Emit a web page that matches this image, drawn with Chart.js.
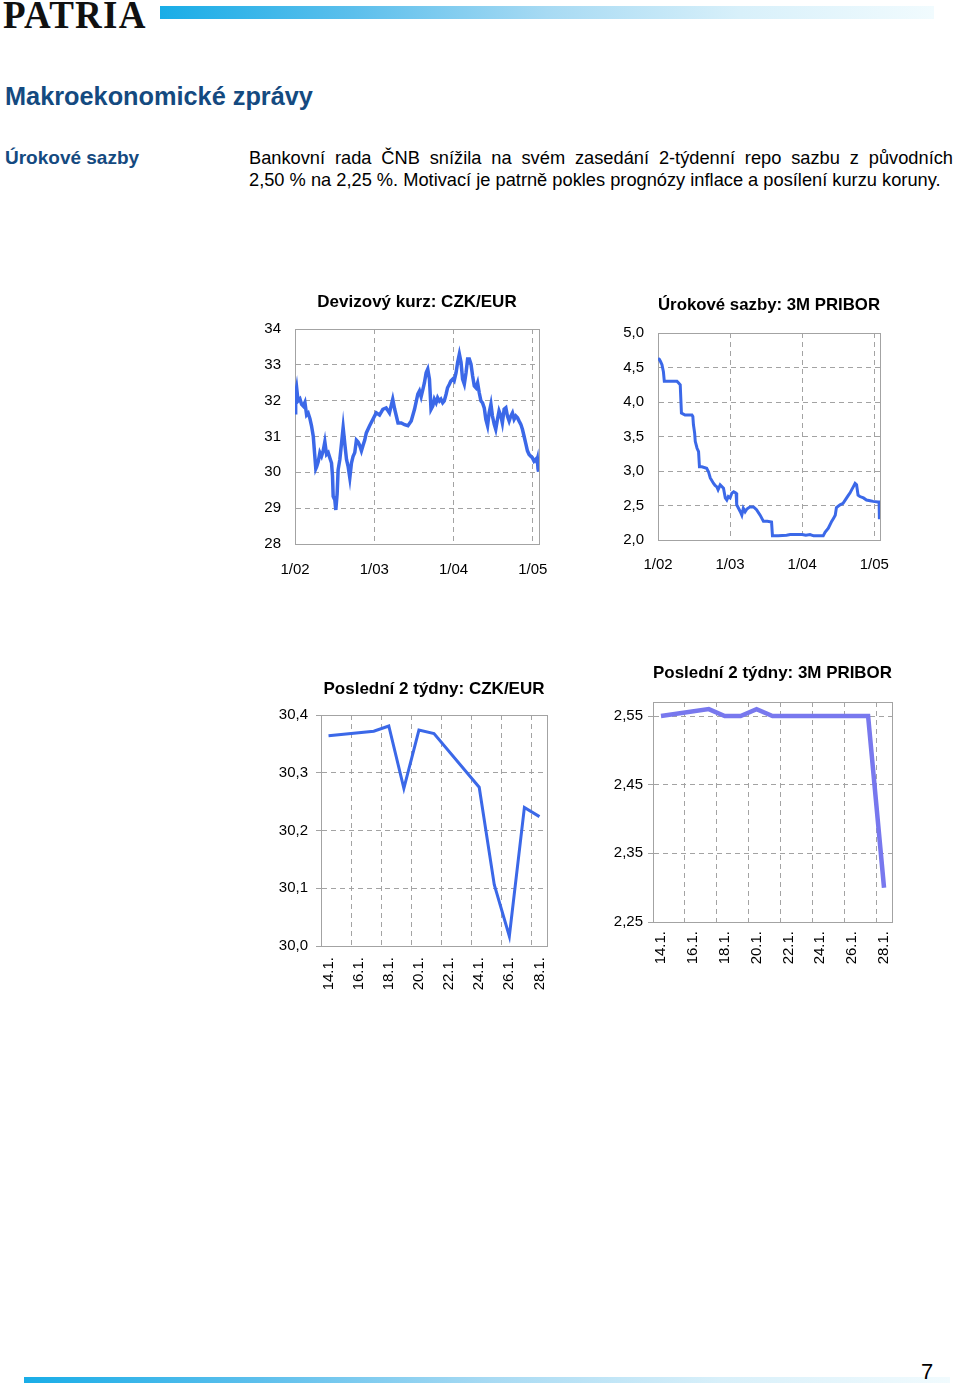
<!DOCTYPE html>
<html lang="cs">
<head>
<meta charset="utf-8">
<title>Makroekonomické zprávy</title>
<script src="https://cdn.jsdelivr.net/npm/chart.js@4.4.1/dist/chart.umd.min.js"></script>
<style>
  body { margin: 0; background: #fff; font-family: 'Liberation Sans', Arial, sans-serif; }
  #strana { position: relative; width: 960px; height: 1388px; overflow: hidden; }
  .abs { position: absolute; margin: 0; }
  .logo { left: 3px; top: -3px; font-family: 'Liberation Serif', 'DejaVu Serif', serif; font-size: 37px; line-height: 37px; font-weight: bold; letter-spacing: 1.2px; color: #111; transform: scaleY(1.08); transform-origin: left bottom; }
  .pruh { background: linear-gradient(to right, #19ade7 0%, #5cbfec 25%, #a7daf3 50%, #d8f0fa 75%, #f1fbfe 100%); }
  .nadpis { left: 5px; top: 81px; font-size: 25.3px; line-height: 30px; font-weight: bold; color: #144a80; }
  .podnadpis { left: 5px; top: 147px; font-size: 19px; line-height: 22px; font-weight: bold; color: #144a80; }
  .text { left: 249px; width: 704px; font-size: 18.25px; line-height: 22px; color: #000; white-space: nowrap; }
  .radek1 { top: 147px; text-align: justify; text-align-last: justify; }
  .radek2 { top: 169px; }
  .cislo { left: 921px; top: 1360px; font-family: 'Liberation Sans Narrow', 'Liberation Sans', sans-serif; font-size: 22px; line-height: 24px; color: #000; }
  canvas { position: absolute; }
</style>
</head>
<body>
<div id="strana">
  <div class="abs logo">PATRIA</div>
  <div class="abs pruh" style="left:160px; top:6px; width:774px; height:13px;"></div>

  <div class="abs nadpis">Makroekonomické zprávy</div>
  <div class="abs podnadpis">Úrokové sazby</div>
  <div class="abs text radek1">Bankovní rada ČNB snížila na svém zasedání 2-týdenní repo sazbu z původních</div>
  <div class="abs text radek2">2,50 % na 2,25 %. Motivací je patrně pokles prognózy inflace a posílení kurzu koruny.</div>

  <canvas id="g1" width="330" height="310" style="left:230px; top:280px;"></canvas>
  <canvas id="g2" width="300" height="300" style="left:600px; top:285px;"></canvas>
  <canvas id="g3" width="300" height="345" style="left:260px; top:660px;"></canvas>
  <canvas id="g4" width="310" height="330" style="left:595px; top:650px;"></canvas>

  <div class="abs pruh" style="left:24px; top:1377px; width:926px; height:6px;"></div>
  <div class="abs cislo">7</div>
</div>

<script>
// Devizový kurz CZK/EUR - x = měsíce od 1/2002
const czkMesice = [0, 0.1, 0.25, 0.4, 0.5, 0.75, 1.0, 1.26, 1.5, 1.76, 2.0, 2.26, 2.5, 2.77, 3.0, 3.15, 3.27, 3.52, 3.77, 4.02,
  4.27, 4.52, 4.78, 5.03, 5.28, 5.53, 5.68, 5.78, 6.03, 6.18, 6.38, 6.53, 6.79, 7.04, 7.29, 7.54, 7.8, 8.04, 8.3, 8.55,
  8.8, 9.05, 9.3, 9.55, 9.8, 10.06, 10.3, 10.56, 10.8, 11.3, 11.8, 12.3, 12.8, 13.3, 13.8, 14.3, 14.8, 15.1, 15.6, 16.1,
  16.6, 17.1, 17.6, 18.1, 18.6, 18.85, 19.1, 19.35, 19.6, 19.86, 20.1, 20.36, 20.6, 20.86, 21.1, 21.37, 21.6, 21.87, 22.1, 22.37,
  22.6, 22.88, 23.1, 23.38, 23.6, 23.88, 24.1, 24.39, 24.63, 24.89, 25.14, 25.38, 25.64, 25.9, 26.14, 26.4, 26.65, 26.9, 27.15, 27.4,
  27.65, 27.9, 28.16, 28.4, 28.66, 28.9, 29.16, 29.4, 29.67, 29.9, 30.17, 30.4, 30.66, 30.9, 31.18, 31.4, 31.67, 31.93, 32.17, 32.43,
  32.68, 32.93, 33.18, 33.44, 33.7, 33.94, 34.2, 34.44, 34.7, 34.95, 35.2, 35.45, 35.7, 35.94, 36.2, 36.45, 36.6, 36.7, 36.8, 36.84,
  36.88, 36.92];
const czkKurz = [31.66, 32.2, 32.36, 32.1, 32.0, 32.05, 31.9, 31.85, 31.95, 31.6, 31.65, 31.5, 31.3, 31.0, 30.45, 30.1, 30.15, 30.3, 30.55, 30.45,
  30.6, 30.85, 30.5, 30.55, 30.4, 30.26, 29.9, 29.33, 29.23, 28.95, 29.4, 30.07, 30.36, 30.8, 31.25, 30.8, 30.36, 30.17, 29.85, 30.26,
  30.45, 30.55, 30.9, 30.85, 30.75, 30.6, 30.75, 30.9, 31.1, 31.3, 31.48, 31.66, 31.6, 31.76, 31.8, 31.66, 32.04, 31.76, 31.38, 31.38,
  31.33, 31.3, 31.43, 31.76, 32.18, 32.27, 32.11, 32.3, 32.5, 32.78, 32.88, 32.6, 31.76, 31.85, 32.04, 31.94, 32.08, 31.99, 32.04, 31.94,
  31.99, 32.18, 32.36, 32.46, 32.55, 32.6, 32.55, 32.78, 33.07, 33.3, 33.07, 32.6, 32.46, 32.78, 33.16, 33.16, 33.02, 32.69, 32.41, 32.36,
  32.5, 32.22, 31.99, 31.94, 31.8, 31.48, 31.3, 31.66, 31.9, 31.57, 31.34, 31.2, 31.48, 31.71, 31.57, 31.38, 31.76, 31.8, 31.57, 31.43,
  31.57, 31.66, 31.48, 31.57, 31.52, 31.43, 31.34, 31.2, 31.0, 30.8, 30.6, 30.5, 30.45, 30.41, 30.31, 30.36, 30.3, 30.37, 30.1, 30.02,
  30.24, 30.22];

// 3M PRIBOR (%) - x = měsíce od 1/2002
const priborMesice = [0, 0.2, 0.4, 0.66, 0.9, 1.05, 2.0, 3.16, 3.4, 3.7, 3.9, 4.5, 5.65, 5.8, 5.9, 6.1, 6.2, 6.5, 6.75, 6.9,
  7.3, 8.1, 8.4, 8.7, 9.25, 9.5, 9.8, 10.0, 10.35, 10.9, 11.2, 11.45, 11.7, 12.0, 12.3, 12.6, 13.0, 13.1, 13.4, 13.7,
  13.95, 14.2, 14.5, 14.8, 15.3, 15.9, 16.4, 17.0, 17.55, 18.2, 18.9, 19.05, 20.0, 21.4, 22.0, 23.0, 24.0, 24.6, 25.3, 25.9,
  27.5, 27.8, 28.35, 28.9, 29.2, 29.5, 29.7, 30.3, 30.8, 31.4, 31.7, 31.95, 32.25, 32.5, 32.8, 33.05, 33.3, 33.6, 34.2, 34.7,
  35.3, 35.8, 36.6, 36.8, 36.85];
const priborSazba = [4.63, 4.62, 4.59, 4.54, 4.44, 4.30, 4.30, 4.30, 4.28, 4.25, 3.84, 3.81, 3.81, 3.79, 3.67, 3.55, 3.43, 3.33, 3.28, 3.06,
  3.06, 3.04, 2.99, 2.90, 2.82, 2.79, 2.77, 2.73, 2.80, 2.75, 2.61, 2.58, 2.63, 2.61, 2.68, 2.70, 2.68, 2.51, 2.46, 2.41,
  2.36, 2.46, 2.41, 2.45, 2.48, 2.48, 2.44, 2.36, 2.27, 2.27, 2.26, 2.06, 2.06, 2.07, 2.08, 2.08, 2.08, 2.07, 2.08, 2.06,
  2.06, 2.11, 2.17, 2.27, 2.31, 2.36, 2.47, 2.51, 2.53, 2.61, 2.65, 2.68, 2.73, 2.77, 2.82, 2.80, 2.65, 2.63, 2.61, 2.58,
  2.57, 2.56, 2.55, 2.55, 2.30];

const rokyPozice = [0, 12, 24, 36];
const rokyPopisky = ['1/02', '1/03', '1/04', '1/05'];
const czkOsaY = [28, 29, 30, 31, 32, 33, 34];
const priborOsaY = [2.0, 2.5, 3.0, 3.5, 4.0, 4.5, 5.0];

// Poslední 2 týdny - den v lednu 2005
const tydenDny = [14, 17, 18, 19, 20, 21, 24, 25, 26, 27, 28];
const czkTyden = [30.364, 30.372, 30.381, 30.273, 30.374, 30.368, 30.275, 30.106, 30.017, 30.240, 30.224];
const priborTyden = [2.55, 2.56, 2.55, 2.55, 2.56, 2.55, 2.55, 2.55, 2.55, 2.55, 2.30];
const dnyPozice = [14, 16, 18, 20, 22, 24, 26, 28];
const dnyPopisky = ['14.1.', '16.1.', '18.1.', '20.1.', '22.1.', '24.1.', '26.1.', '28.1.'];
const czkTydenOsaY = [30.0, 30.1, 30.2, 30.3, 30.4];
const priborTydenOsaY = [2.25, 2.35, 2.45, 2.55];

Chart.defaults.font.family = "'Liberation Sans', Arial, sans-serif";
Chart.defaults.font.size = 15;
Chart.defaults.color = '#000';

const SEDA = '#a3a3a3';

// rámeček kolem plochy grafu
const ramecek = {
    id: 'ramecek',
    beforeDatasetsDraw(chart) {
        const { ctx, chartArea: a } = chart;
        ctx.save();
        ctx.strokeStyle = SEDA;
        ctx.lineWidth = 1;
        ctx.strokeRect(Math.round(a.left) + 0.5, Math.round(a.top) + 0.5,
            Math.round(a.right - a.left), Math.round(a.bottom - a.top));
        ctx.restore();
    }
};

const carka = (v, des) => v.toFixed(des).replace('.', ',');

// Funkce pro vykreslení jednoho čárového grafu
const graf = (id, c) => {
    const scales = {
        x: {
            type: 'linear',
            min: c.xMin,
            max: c.xMax,
            afterBuildTicks: s => { s.ticks = c.xPozice.map(v => ({ value: v })); },
            afterFit: s => { s.height = c.vyskaX; s.paddingLeft = 0; s.paddingRight = 0; },
            ticks: {
                autoSkip: false,
                padding: c.xPadding,
                minRotation: c.otocit ? 90 : 0,
                maxRotation: c.otocit ? 90 : 0,
                callback: (v, i) => c.xPopisky[i]
            },
            grid: { display: !c.mrizka, color: SEDA, drawTicks: false },
            border: { color: SEDA, dash: [5, 4] }
        },
        y: {
            min: c.yMin,
            max: c.yMax,
            afterBuildTicks: s => { s.ticks = c.yTicks.map(v => ({ value: v })); },
            afterFit: s => { s.width = c.sirkaY; s.paddingTop = 0; s.paddingBottom = 0; },
            ticks: {
                padding: c.yPadding,
                callback: v => carka(v, c.yDes)
            },
            grid: { color: SEDA, drawTicks: c.carkyY, tickLength: 5, tickColor: SEDA },
            border: { color: SEDA, dash: [5, 4] }
        }
    };
    if (c.mrizka) {
        // svislé čáry mřížky mezi dny
        scales.xm = {
            type: 'linear',
            position: 'bottom',
            min: c.xMin,
            max: c.xMax,
            afterBuildTicks: s => { s.ticks = c.mrizka.map(v => ({ value: v })); },
            afterFit: s => { s.height = 0; s.paddingLeft = 0; s.paddingRight = 0; },
            ticks: { display: false },
            grid: { color: SEDA, drawTicks: false },
            border: { display: false, dash: [5, 4] }
        };
    }
    new Chart(document.getElementById(id), {
        type: 'line',
        data: {
            datasets: [{
                data: c.x.map((v, i) => ({ x: v, y: c.y[i] })),
                borderColor: c.barva,
                borderWidth: c.tloustka,
                pointRadius: 0,
                tension: 0,
                fill: false
            }]
        },
        options: {
            responsive: false,
            animation: false,
            layout: { padding: { top: c.horni, right: c.prava, left: 0, bottom: 0 } },
            plugins: {
                legend: { display: false },
                tooltip: { enabled: false },
                title: {
                    display: true,
                    text: c.titulek,
                    fullSize: false,
                    color: '#000',
                    font: { size: 17, weight: 'bold' },
                    padding: { top: 0, bottom: c.podTitulkem }
                }
            },
            scales
        },
        plugins: [ramecek]
    });
};

graf('g1', {
    titulek: 'Devizový kurz: CZK/EUR',
    x: czkMesice, y: czkKurz,
    xMin: 0, xMax: 36.95, xPozice: rokyPozice, xPopisky: rokyPopisky,
    yMin: 28, yMax: 34, yTicks: czkOsaY, yDes: 0,
    barva: '#3b68e8', tloustka: 3.5,
    horni: 12, podTitulkem: 16.6, prava: 21, sirkaY: 65, vyskaX: 46,
    xPadding: 17, yPadding: 14, carkyY: false
});

graf('g2', {
    titulek: 'Úrokové sazby: 3M PRIBOR',
    x: priborMesice, y: priborSazba,
    xMin: 0, xMax: 36.95, xPozice: rokyPozice, xPopisky: rokyPopisky,
    yMin: 2, yMax: 5, yTicks: priborOsaY, yDes: 1,
    barva: '#3b68e8', tloustka: 3,
    horni: 10, podTitulkem: 17.6, prava: 20, sirkaY: 58, vyskaX: 45,
    xPadding: 16, yPadding: 14, carkyY: false
});

graf('g3', {
    titulek: 'Poslední 2 týdny: CZK/EUR',
    x: tydenDny, y: czkTyden,
    xMin: 13.5, xMax: 28.5, xPozice: dnyPozice, xPopisky: dnyPopisky, otocit: true,
    mrizka: dnyPozice.slice(1).map(d => d - 0.5),
    yMin: 30, yMax: 30.4, yTicks: czkTydenOsaY, yDes: 1,
    barva: '#3b68e8', tloustka: 3,
    horni: 19, podTitulkem: 15.6, prava: 13, sirkaY: 61, vyskaX: 59,
    xPadding: 11, yPadding: 8, carkyY: true
});

graf('g4', {
    titulek: 'Poslední 2 týdny: 3M PRIBOR',
    x: tydenDny, y: priborTyden,
    xMin: 13.5, xMax: 28.5, xPozice: dnyPozice, xPopisky: dnyPopisky, otocit: true,
    mrizka: dnyPozice.slice(1).map(d => d - 0.5),
    yMin: 2.25, yMax: 2.5704, yTicks: priborTydenOsaY, yDes: 2,
    barva: '#7878ee', tloustka: 4.5,
    horni: 13, podTitulkem: 18.6, prava: 13, sirkaY: 58, vyskaX: 58,
    xPadding: 9, yPadding: 5, carkyY: true
});
</script>
</body>
</html>
